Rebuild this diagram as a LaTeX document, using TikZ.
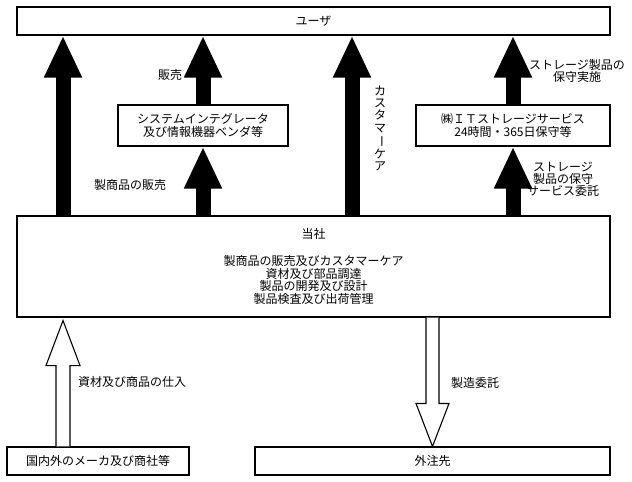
\documentclass[tikz,border=0pt]{standalone}
\usepackage{fontspec}
\setmainfont{Noto Sans CJK JP}
\usepackage{graphicx}
\usetikzlibrary{arrows.meta,calc}

\tikzset{
  box/.style={draw, line width=1.1pt, inner sep=0pt, align=center},
  fat/.style={line width=15pt, -{Triangle[width=35pt,length=42pt]}},
  hollow/.style={draw, line width=1.1pt, fill=white, line join=miter},
  lbl/.style={inner sep=0pt, align=center},
}

\begin{document}
\begin{tikzpicture}[x=1pt, y=-1pt, every node/.append style={font=\fontsize{12}{12.6}\selectfont}]
\useasboundingbox (0,0) rectangle (632,482);
% boxes
\node[box, minimum width=593pt, minimum height=28pt] (user) at (313.5,21) {ユーザ};
\node[box, minimum width=170pt, minimum height=41pt] (si) at (203,125.5) {システムインテグレータ\\及び情報機器ベンダ等};
\node[box, minimum width=194pt, minimum height=41pt] (its) at (513,125.5) {㈱ＩＴストレージサービス\\24時間・365日保守等};
\node[box, minimum width=593pt, minimum height=101pt] (tosha) at (313.5,266.5) {当社\\[14pt]製商品の販売及びカスタマーケア\\資材及び部品調達\\製品の開発及び設計\\製品検査及び出荷管理};
\node[box, minimum width=182pt, minimum height=28pt] (maker) at (98,461) {国内外のメーカ及び商社等};
\node[box, minimum width=355pt, minimum height=28pt] (gaichu) at (432.5,461) {外注先};
\coordinate (c1) at (63,0);
\coordinate (c4) at (352,0);
% solid arrows
\draw[fat] (tosha.north -| c1) -- (user.south -| c1);
\draw[fat] (si.north) -- (si.north |- user.south);
\draw[fat] (tosha.north -| si) -- (si.south);
\draw[fat] (tosha.north -| c4) -- (user.south -| c4);
\draw[fat] (its.north) -- (its.north |- user.south);
\draw[fat] (tosha.north -| its) -- (its.south);
% hollow arrows
\draw[hollow] ($(maker.north -| c1)+(-7,0)$) |- ($(tosha.south -| c1)+(-17,48)$) -- ($(tosha.south -| c1)+(0,3)$) -- ($(tosha.south -| c1)+(17,48)$) -| ($(maker.north -| c1)+(7,0)$);
\draw[hollow] ($(tosha.south -| gaichu)+(-6.5,0)$) |- ($(gaichu.north)+(-16.5,-43)$) -- (gaichu.north) -- ($(gaichu.north)+(16.5,-43)$) -| ($(tosha.south -| gaichu)+(6.5,0)$);
% labels
\node[lbl] (hanbai) at (170,75) {販売};
\node[lbl] (seihin) at (130,185) {製商品の販売};
\node[lbl, font=\fontsize{12}{12.2}\selectfont] (cs) at (380,128.5) {カ\\ス\\タ\\マ\\\rotatebox[origin=c]{-90}{ー}\\ケ\\ア};
\node[lbl] (hoshu) at (577,71) {ストレージ製品の\\保守実施};
\node[lbl, font=\fontsize{12}{12}\selectfont] (itaku) at (563,179) {ストレージ\\製品の保守\\サービス委託};
\node[lbl] (shiire) at (132,382) {資材及び商品の仕入};
\node[lbl] (seizo) at (475,383) {製造委託};
\end{tikzpicture}
\end{document}
